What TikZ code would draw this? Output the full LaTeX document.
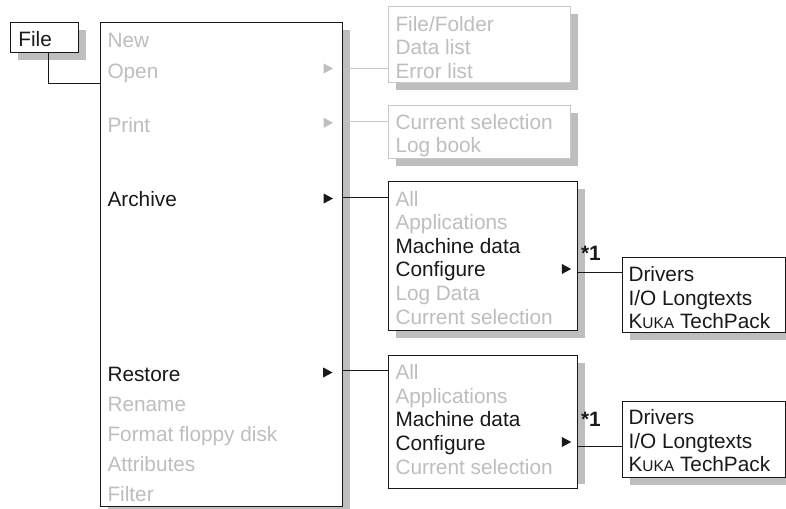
\documentclass[tikz,border=0pt]{standalone}
\usepackage{fontspec}
\setmainfont{Liberation Sans}
\usetikzlibrary{shadows}
\definecolor{txtgray}{RGB}{190,190,190}
\definecolor{boxgray}{RGB}{200,200,200}
\definecolor{shadowc}{RGB}{190,190,190}
\definecolor{ink}{RGB}{25,25,25}
\newcommand{\kuka}{K{\fontsize{15.5}{16}\selectfont UKA}}
\begin{document}
\begin{tikzpicture}[x=1pt,y=-1pt,
  every node/.style={inner sep=0pt,outer sep=0pt},
  font=\fontsize{20.8}{24}\selectfont,
  plainbox/.style={draw=ink,line width=1pt,fill=white,anchor=north west},
  menubox/.style={plainbox,drop shadow={shadow xshift=7.5pt,shadow yshift=-7.5pt,fill=shadowc,opacity=1}},
  graybox/.style={menubox,draw=boxgray},
  item/.style={anchor=base west,text=ink},
  off/.style={anchor=base west,text=txtgray},
  link/.style={draw=ink,line width=1pt},
  graylink/.style={draw=boxgray,line width=1pt},
  menuarrow/.pic={\fill (-0.3,-5) -- (9,0) -- (-0.3,5) -- cycle;}
]
\useasboundingbox (0,0) rectangle (786,508);
\clip (0,0) rectangle (786,508);

% boxes
\node[menubox,minimum width=68pt,minimum height=30.3pt] (file) at (10.7,22.7) {};
\node[menubox,minimum width=242pt,minimum height=483.3pt] (main) at (100.7,22.7) {};
\node[graybox,minimum width=181.7pt,minimum height=76pt] (ffbox) at (388.3,6.7) {};
\node[graybox,minimum width=181.7pt,minimum height=52.6pt] (prbox) at (388.3,105.7) {};
\node[menubox,minimum width=189pt,minimum height=149pt] (arbox) at (388.3,181.7) {};
\fill[shadowc] (577.3,363) rectangle (585,484);
\node[plainbox,minimum width=189pt,minimum height=132.6pt] (rsbox) at (388.3,355.7) {};
\node[menubox,minimum width=162.3pt,minimum height=75pt] (drvA) at (622.7,257.3) {};
\node[menubox,minimum width=162.3pt,minimum height=75.7pt] (drvB) at (622.7,401.3) {};

% File
\node[item] (tfile) at (18.4,46.7) {File};

% main menu
\node[off]  (tnew)  at (107.5,47.8) {New};
\node[off]  (topen) at (107.5,79) {Open};
\node[off]  (tprint) at (107.5,132) {Print};
\node[item] (tarch) at (107.5,206.3) {Archive};
\node[item] (trest) at (107.5,381.5) {Restore};
\node[off]  (tren)  at (107.5,411.5) {Rename};
\node[off]  (tfmt)  at (107.5,441.5) {Format floppy disk};
\node[off]  (tattr) at (107.5,471.5) {Attributes};
\node[off]  (tfilt) at (107.5,501.5) {Filter};
\pic[color=txtgray] at (324,68.5) {menuarrow};
\pic[color=txtgray] at (324,122.8) {menuarrow};
\pic[color=ink] at (324,198.5) {menuarrow};
\pic[color=ink] at (323.5,372.5) {menuarrow};

% open submenu
\node[off] (tff) at (395.5,31.7) {File/Folder};
\node[off] (tdl) at (395.5,55) {Data list};
\node[off] (tel) at (395.5,78.3) {Error list};
% print submenu
\node[off] (tpcs) at (395.5,129.3) {Current selection};
\node[off] (tlb)  at (395.5,152.3) {Log book};
% archive submenu
\node[off]  (taall) at (395.5,206) {All};
\node[off]  (taapp) at (395.5,229.6) {Applications};
\node[item] (tamd)  at (395.5,253.2) {Machine data};
\node[item] (tacf)  at (395.5,276.8) {Configure};
\node[off]  (tald)  at (395.5,300.4) {Log Data};
\node[off]  (tacs)  at (395.5,324) {Current selection};
\pic[color=ink] at (562.2,269) {menuarrow};
% restore submenu
\node[off]  (trall) at (395.5,379.3) {All};
\node[off]  (trapp) at (395.5,403) {Applications};
\node[item] (trmd)  at (395.5,426.7) {Machine data};
\node[item] (trcf)  at (395.5,450.4) {Configure};
\node[off]  (trcs)  at (395.5,474) {Current selection};
\pic[color=ink] at (562.2,442) {menuarrow};

% *1 labels
\node[item,font=\fontsize{20.8}{24}\selectfont\bfseries] (starA) at (581,260.7) {*1};
\node[item,font=\fontsize{20.8}{24}\selectfont\bfseries] (starB) at (581,426.7) {*1};

% drivers boxes
\node[item] (tdA1) at (628.5,281) {Drivers};
\node[item] (tdA2) at (628.5,305) {I/O Longtexts};
\node[item] (tdA3) at (628.5,328.3) {\kuka{} TechPack};
\node[item] (tdB1) at (628.5,424) {Drivers};
\node[item] (tdB2) at (628.5,448.3) {I/O Longtexts};
\node[item] (tdB3) at (628.5,471.7) {\kuka{} TechPack};

% connectors
\coordinate (fc) at (48.3,83.3);
\coordinate (oy) at (0,68.3);
\coordinate (py) at (0,121.7);
\coordinate (ay) at (0,197);
\coordinate (ry) at (0,370);
\coordinate (c1) at (0,272.3);
\coordinate (c2) at (0,446);
\draw[link] (file.south -| fc) |- (main.west |- fc);
\draw[graylink] (main.east |- oy) -- (ffbox.west |- oy);
\draw[graylink] (main.east |- py) -- (prbox.west |- py);
\draw[link] (main.east |- ay) -- (arbox.west |- ay);
\draw[link] (main.east |- ry) -- (rsbox.west |- ry);
\draw[link] (arbox.east |- c1) -- (drvA.west |- c1);
\draw[link] (rsbox.east |- c2) -- (drvB.west |- c2);
\end{tikzpicture}
\end{document}
